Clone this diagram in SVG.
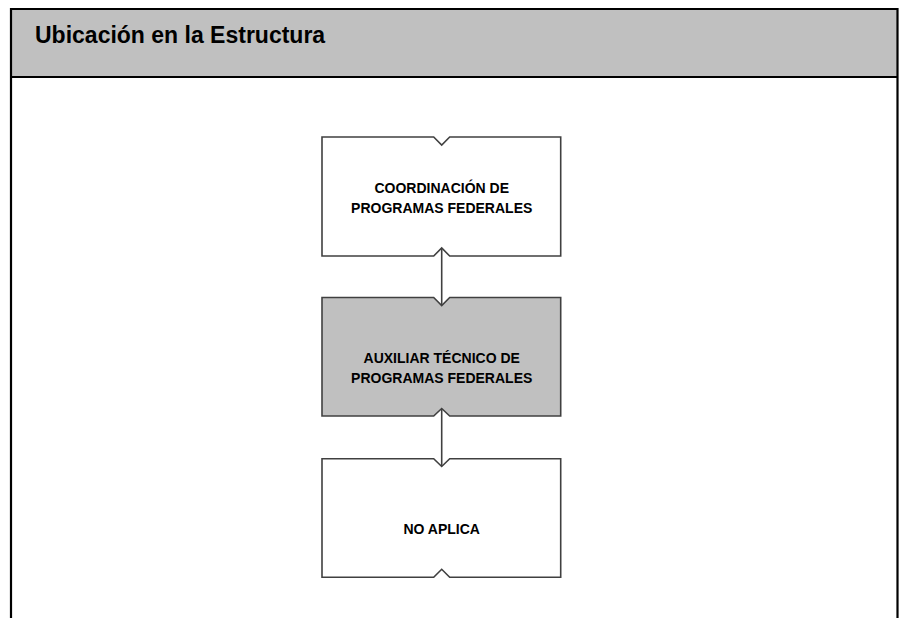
<svg xmlns="http://www.w3.org/2000/svg" width="899" height="618" viewBox="0 0 899 618">
<style>
.frame{fill:none;stroke:#000;stroke-width:2.2}
.box{stroke:#404040;stroke-width:1.6;stroke-linejoin:miter}
.w{fill:#fff}
.g{fill:#c0c0c0}
.lbl{font-family:"Liberation Sans",Arial,sans-serif;font-weight:bold;font-size:14px;fill:#000;text-anchor:middle}
.title{font-family:"Liberation Sans",Arial,sans-serif;font-weight:bold;font-size:23px;fill:#000}
.conn{stroke:#404040;stroke-width:1.6;fill:none}
</style>
<rect x="0" y="0" width="899" height="618" fill="#fff"/>
<g id="header">
<rect x="11" y="9" width="886.5" height="68" fill="#c0c0c0"/>
<path class="frame" d="M11,620 V9 H897.5 V620 M11,77 H897.5"/>
<text class="title" x="35" y="43">Ubicación en la Estructura</text>
</g>
<g id="connectors">
<line class="conn" x1="441.7" y1="248" x2="441.7" y2="305"/>
<line class="conn" x1="441.7" y1="409" x2="441.7" y2="466"/>
</g>
<g id="node-coordinacion">
<path class="box w" d="M322,137 H433.7 L441.7,145 L449.7,137 H560.7 V256 H449.7 L441.7,248 L433.7,256 H322 Z"/>
<text class="lbl" x="441.7" y="193">COORDINACIÓN DE</text>
<text class="lbl" x="441.7" y="212.5">PROGRAMAS FEDERALES</text>
</g>
<g id="node-auxiliar">
<path class="box g" d="M322,297.5 H433.7 L441.7,305.5 L449.7,297.5 H560.7 V416 H449.7 L441.7,408.5 L433.7,416 H322 Z"/>
<text class="lbl" x="441.7" y="362.7">AUXILIAR TÉCNICO DE</text>
<text class="lbl" x="441.7" y="382.7">PROGRAMAS FEDERALES</text>
</g>
<g id="node-noaplica">
<path class="box w" d="M322,458.7 H433.7 L441.7,466.5 L449.7,458.7 H560.7 V577.3 H449.7 L441.7,569.3 L433.7,577.3 H322 Z"/>
<text class="lbl" x="441.7" y="534">NO APLICA</text>
</g>
</svg>
